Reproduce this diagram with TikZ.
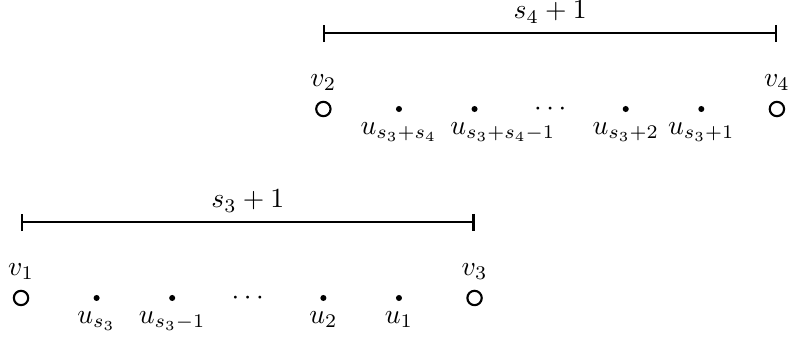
\documentclass[tikz,border=0pt]{standalone}
\usetikzlibrary{arrows.meta}
\begin{document}
\begin{tikzpicture}[
  txt/.style={scale=1.04},
  every label/.style={scale=1.04},
  open/.style={circle,draw,line width=0.8pt,inner sep=0pt,minimum size=0.19cm},
  dotv/.style={circle,fill,inner sep=0pt,minimum size=0.08cm},
  bracket/.style={line width=0.8pt,{Bar[width=6.5pt]}-{Bar[width=6.5pt]}}
]
\useasboundingbox (-0.278,-0.529) rectangle (10.16,3.942);
% bottom row
\node[open,label={above:$v_1$}] (v1) at (0,0) {};
\node[dotv,label={below:$u_{s_3}$}] (us3) at (1,0) {};
\node[dotv,label={below:$u_{s_3-1}$}] (us3m) at (2,0) {};
\node[txt] (cd1) at (3,0) {$\cdots$};
\node[dotv,label={below:$u_2$}] (u2) at (4,0) {};
\node[dotv,label={below:$u_1$}] (u1) at (5,0) {};
\node[open,label={above:$v_3$}] (v3) at (6,0) {};
\coordinate (b1l) at (0,1);
\coordinate (b1r) at (6,1);
\draw[bracket] (b1l) -- node[txt,above] (l1) {$s_3+1$} (b1r);
% top row
\node[open,label={above:$v_2$}] (v2) at (4,2.5) {};
\node[dotv,label={below:$u_{s_3+s_4}$}] (ua) at (5,2.5) {};
\node[dotv,label={[xshift=0.36cm]below:$u_{s_3+s_4-1}$}] (ub) at (6,2.5) {};
\node[txt] (cd2) at (7,2.5) {$\cdots$};
\node[dotv,label={below:$u_{s_3+2}$}] (uc) at (8,2.5) {};
\node[dotv,label={below:$u_{s_3+1}$}] (ud) at (9,2.5) {};
\node[open,label={above:$v_4$}] (v4) at (10,2.5) {};
\coordinate (b2l) at (4,3.5);
\coordinate (b2r) at (10,3.5);
\draw[bracket] (b2l) -- node[txt,above] (l2) {$s_4+1$} (b2r);
\end{tikzpicture}
\end{document}
